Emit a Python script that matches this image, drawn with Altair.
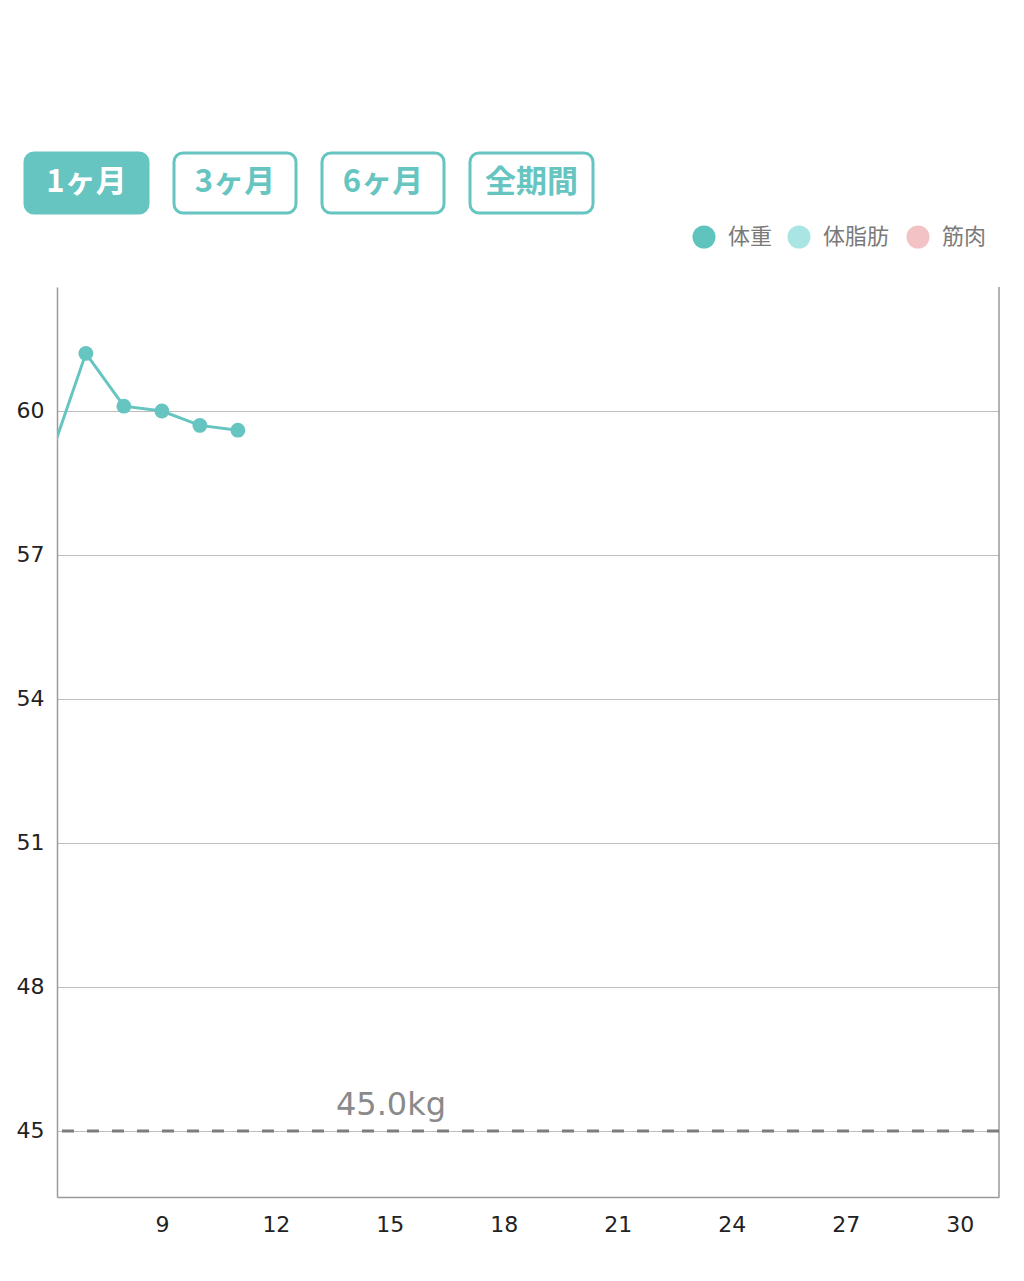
import altair as alt
import pandas as pd

# ---- data ----
days = [6, 7, 8, 9, 10, 11]
weights = [58.9, 61.2, 60.1, 60.0, 59.7, 59.6]
target_weight = [45.0]
target_label = ["45.0kg"]
buttons = ["1ヶ月", "3ヶ月", "6ヶ月", "全期間"]
legend_labels = ["体重", "体脂肪", "筋肉"]
legend_colors = ["#5FC3BE", "#A9E5E3", "#F2C2C4"]
x_ticks = [9, 12, 15, 18, 21, 24, 27, 30]
y_ticks = [45, 48, 51, 54, 57, 60]

TEAL = "#66C5C0"
W, H = 942, 910
X_DOM = [6.24, 31.03]
Y_DOM = [43.625, 62.583]

df = pd.DataFrame({"day": days, "weight": weights})

xs = alt.X("day:Q", scale=alt.Scale(domain=X_DOM, nice=False, zero=False),
           axis=alt.Axis(values=x_ticks, title=None, grid=False, ticks=False,
                         labelFontSize=22, labelPadding=17, labelColor="#222",
                         labelFont="DejaVu Sans", domainColor="#9a9a9a",
                         domainWidth=1.5))
ys = alt.Y("weight:Q", scale=alt.Scale(domain=Y_DOM, nice=False, zero=False),
           axis=alt.Axis(values=y_ticks, title=None, grid=True, gridColor="#bdbdbd",
                         gridWidth=1, ticks=False, labelFontSize=22, labelPadding=13,
                         labelColor="#222", labelFont="DejaVu Sans",
                         domainColor="#9a9a9a", domainWidth=1.5))

line = alt.Chart(df).mark_line(color=TEAL, strokeWidth=3, clip=True).encode(x=xs, y=ys)
pts = alt.Chart(df).mark_circle(color=TEAL, size=220, opacity=1, clip=True).encode(
    x="day:Q", y="weight:Q")

# right frame line at the end of the x domain
frame_df = pd.DataFrame({"day": [X_DOM[1]]})
right_frame = alt.Chart(frame_df).mark_rule(color="#9a9a9a", strokeWidth=1.5).encode(
    x="day:Q")

tdf = pd.DataFrame({"weight": target_weight, "label": target_label})
target = alt.Chart(tdf).mark_rule(color="#7d7d7d", strokeWidth=3,
                                  strokeDash=[12, 13]).encode(y="weight:Q")
target_text = alt.Chart(tdf).mark_text(fontSize=32, color="#8a8a8a", font="DejaVu Sans",
                                       dy=-26).encode(
    y="weight:Q", x=alt.value(334), text="label:N")

layers = [line, pts, right_frame, target, target_text]

# ---- period buttons ----
btn_x = [(-32, 91), (117, 239), (265, 387), (413, 536)]
for i, b in enumerate(buttons):
    bdf = pd.DataFrame({"label": [b]})
    x0, x1 = btn_x[i]
    filled = i == 0
    rect = alt.Chart(bdf).mark_rect(
        cornerRadius=9,
        fill=TEAL if filled else "white",
        stroke=TEAL, strokeWidth=3, clip=False
    ).encode(x=alt.value(x0), x2=alt.value(x1), y=alt.value(-134), y2=alt.value(-74))
    txt = alt.Chart(bdf).mark_text(
        fontSize=31, fontWeight="bold", font="Noto Sans CJK JP",
        color="white" if filled else TEAL, clip=False
    ).encode(x=alt.value((x0 + x1) / 2), y=alt.value(-104), text="label:N")
    layers += [rect, txt]

# ---- legend ----
leg_cx = [647, 742, 861]
for i, lab in enumerate(legend_labels):
    ldf = pd.DataFrame({"label": [lab]})
    dot = alt.Chart(ldf).mark_circle(color=legend_colors[i], size=530, opacity=1,
                                     clip=False).encode(
        x=alt.value(leg_cx[i]), y=alt.value(-50))
    t = alt.Chart(ldf).mark_text(fontSize=22, color="#7a7a7a", align="left",
                                 font="Noto Sans CJK JP", clip=False).encode(
        x=alt.value(leg_cx[i] + 24), y=alt.value(-50), text="label:N")
    layers += [dot, t]

chart = alt.layer(*layers).properties(
    width=W, height=H,
    background="white",
    autosize=alt.AutoSizeParams(type="none"),
    padding={"left": 49, "top": 279, "right": 17, "bottom": 60},
).configure_view(stroke=None, strokeWidth=0)

chart.save("out.html", embed_options={"renderer": "svg", "actions": False})
